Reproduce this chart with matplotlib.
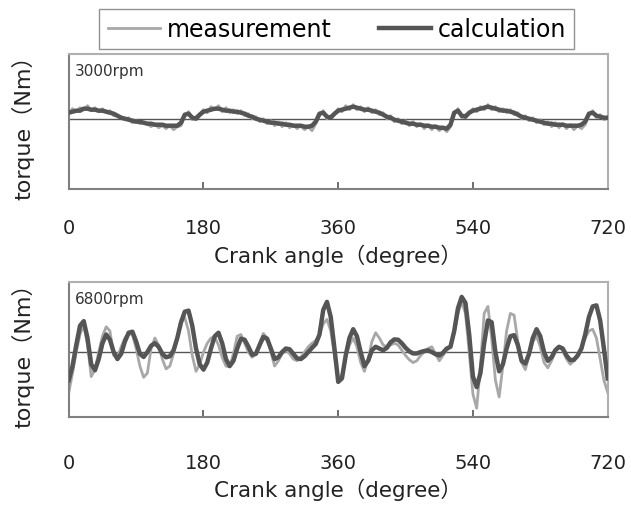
import numpy as np
import matplotlib.pyplot as plt

plt.rcParams['font.family'] = ['DejaVu Sans', 'Noto Sans CJK JP']

# crank angle grid, 5 degree steps over one full cycle
angle = np.arange(0, 721, 5)

# 3000 rpm torque (arbitrary units)
calc_3000 = [6, 7, 8, 8, 10, 10, 9, 9, 8, 8, 7, 6, 5, 3, 1, 0, -1, -2, -3, -3, -4, -5, -5, -6, -6, -6, -7, -7, -7, -7, -4, 4, 5, 1, 0, 4,
             7, 8, 9, 10, 10, 9, 8, 8, 7, 7, 6, 5, 3, 2, 0, -1, -2, -3, -4, -4, -5, -5, -6, -6, -7, -7, -7, -8, -8, -7, -3, 5, 6, 2, 1, 5,
             8, 9, 10, 11, 12, 11, 10, 9, 9, 8, 7, 6, 4, 2, 1, -1, -2, -3, -4, -5, -5, -6, -6, -7, -7, -8, -8, -9, -9, -10, -6, 6, 8, 3, 2, 6,
             8, 9, 10, 11, 12, 11, 10, 9, 8, 8, 7, 6, 4, 2, 1, 0, -1, -2, -3, -4, -5, -5, -6, -6, -6, -7, -7, -7, -7, -6, -3, 5, 6, 3, 2, 1,
             1]
meas_3000 = [5, 10, 7, 11, 9, 13, 8, 11, 7, 10, 6, 8, 3, 3, 1, -1, 1, -4, -2, -5, -4, -5, -8, -5, -9, -7, -10, -7, -11, -8, -7, 3, 7, -1, 2, 5,
             9, 6, 12, 9, 13, 7, 11, 6, 9, 5, 8, 3, 5, 0, 2, -3, 0, -5, -2, -7, -3, -8, -4, -9, -6, -10, -7, -11, -8, -12, -5, 4, 8, 0, 3, 4,
             10, 7, 13, 9, 14, 9, 12, 7, 11, 6, 9, 4, 6, 0, 3, -3, 0, -5, -2, -7, -3, -8, -5, -10, -6, -11, -7, -12, -9, -13, -8, 5, 10, 1, 4, 5,
             10, 7, 12, 9, 14, 9, 12, 7, 10, 6, 9, 4, 6, 0, 3, -2, 1, -4, -1, -6, -3, -8, -4, -9, -5, -10, -6, -11, -7, -10, -6, 4, 8, 1, 4, -1,
             0]

# 6800 rpm torque (arbitrary units)
calc_6800 = [-80, -40, 20, 75, 88, 40, -35, -52, -20, 25, 50, 35, 0, -20, -5, 30, 55, 58, 30, -5, -14, 0, 18, 25, 15, -5, -15, -12, 5, 40, 85, 115, 118, 75, 10, -35,
             -50, -30, 10, 45, 55, 25, -20, -40, -25, 10, 38, 35, 15, -8, -5, 20, 43, 38, 10, -20, -15, 0, 10, 8, -5, -18, -20, -12, 0, 12, 23, 50, 120, 143, 100, 10,
             -85, -75, -10, 40, 65, 45, 0, -40, -25, 5, 15, 10, 5, 12, 28, 36, 35, 25, 12, 2, -4, -4, 0, 3, 5, 0, -6, -10, -2, 10, 15, 60, 125, 157, 140, 50,
             -70, -100, -60, 25, 90, 85, 0, -55, -35, 10, 45, 48, 20, -25, -33, -5, 40, 65, 45, 0, -25, -15, 5, 15, 10, -10, -23, -22, -10, 10, 50, 100, 130, 133, 90, 10,
             -75]
meas_6800 = [-115, -60, 0, 50, 78, 20, -70, -50, 0, 45, 72, 60, -10, -15, 15, 40, 52, 50, 10, -40, -72, -60, 10, 40, 20, -20, -48, -40, -5, 40, 85, 98, 60, -10, -55, -35,
             0, 25, 40, 43, 20, -15, -40, -42, -5, 45, 50, 25, 0, -15, -5, 25, 53, 40, 0, -40, -25, -5, 5, -5, -20, -25, -15, 0, 15, 25, 33, 50, 80, 93, 60, -10,
             -80, -65, -15, 20, 40, 15, -30, -55, -20, 30, 55, 40, 20, 15, 20, 25, 20, 5, -10, -22, -30, -25, -10, 0, 10, 15, -5, -25, -10, 5, 15, 55, 110, 143, 110, 0,
             -120, -160, -40, 110, 130, 40, -80, -128, -40, 60, 110, 105, 30, -30, -50, -10, 30, 45, 15, -30, -45, -25, 0, 15, 5, -20, -35, -25, -5, 15, 40, 60, 65, 40, -20, -80,
             -115]

ticks = [0, 180, 360, 540, 720]

fig = plt.figure(figsize=(6.31, 5.06), dpi=100)
ax1 = fig.add_axes([0.109, 0.625, 0.854, 0.267])
ax2 = fig.add_axes([0.109, 0.174, 0.854, 0.267])

panels = [(ax1, meas_3000, calc_3000, '3000rpm', (-70, 65), 21, 5),
          (ax2, meas_6800, calc_6800, '6800rpm', (-185, 200), 26, 4)]

for ax, meas, calc, label, ylim, pad, lpad in panels:
    ax.axhline(0, color='#555555', lw=1.0, zorder=1)
    ax.plot(angle, meas, color='#a8a8a8', lw=2.0, zorder=2)
    ax.plot(angle, calc, color='#555555', lw=3.2, zorder=3)
    ax.set_xlim(0, 720)
    ax.set_ylim(*ylim)
    ax.set_xticks(ticks)
    ax.set_yticks([])
    ax.tick_params(axis='x', direction='in', length=5, width=1.2, color='#555555',
                   labelsize=14, labelcolor='#222222', pad=pad)
    for side in ['top', 'right']:
        ax.spines[side].set_color('#b0b0b0')
        ax.spines[side].set_linewidth(1.5)
    for side in ['left', 'bottom']:
        ax.spines[side].set_color('#808080')
        ax.spines[side].set_linewidth(1.5)
    ax.text(0.012, 0.93, label, transform=ax.transAxes, fontsize=11,
            color='#333333', va='top', ha='left')
    ax.set_xlabel('Crank angle（degree）', fontsize=15.5, color='#222222', labelpad=lpad)
    ax.set_ylabel('torque（Nm）', fontsize=16, color='#222222', labelpad=25)

# shared legend across the top
h1, = ax1.plot([], [], color='#a8a8a8', lw=2.0)
h2, = ax1.plot([], [], color='#555555', lw=3.2)
fig.legend([h1, h2], ['measurement', 'calculation'], loc='center',
           bbox_to_anchor=(0.534, 0.941), ncol=2, fontsize=17, frameon=True,
           fancybox=False, edgecolor='#777777', handlelength=2.2,
           handletextpad=0.3, columnspacing=2.0, borderpad=0.35)

fig.savefig('out.png', dpi=100)
